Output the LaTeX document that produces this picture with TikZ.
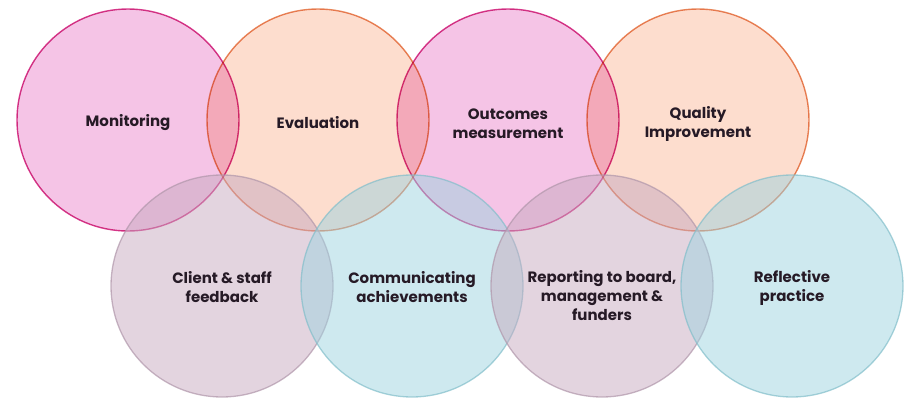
\documentclass[tikz,border=0pt]{standalone}
\usepackage{fontspec}
\setmainfont{Poppins}
\definecolor{pinkfill}{RGB}{245,196,230}
\definecolor{pinkline}{RGB}{216,58,140}
\definecolor{peachfill}{RGB}{253,221,206}
\definecolor{peachline}{RGB}{232,136,92}
\definecolor{mauvefill}{RGB}{199,169,191}
\definecolor{mauveline}{RGB}{176,150,170}
\definecolor{cyanfill}{RGB}{157,211,223}
\definecolor{cyanline}{RGB}{130,190,202}
\definecolor{txt}{RGB}{38,26,38}
\tikzset{
  topcirc/.style={circle, minimum size=222pt, inner sep=0pt, line width=1.4pt, blend mode=multiply},
  botcirc/.style={circle, minimum size=222pt, inner sep=0pt, line width=1.3pt, fill opacity=0.5, draw opacity=0.7},
  lbl/.style={font=\bfseries\fontsize{15}{19}\selectfont, text=txt, align=center},
}
\begin{document}
\begin{tikzpicture}[x=1pt,y=-1pt]
\useasboundingbox (0,0) rectangle (906,399);
\node[topcirc, fill=pinkfill, draw=pinkline] (mon) at (128,120) {};
\node[topcirc, fill=peachfill, draw=peachline] (eva) at (318,120) {};
\node[topcirc, fill=pinkfill, draw=pinkline] (out) at (508,120) {};
\node[topcirc, fill=peachfill, draw=peachline] (qua) at (698,120) {};
\node[botcirc, fill=mauvefill, draw=mauveline] (cli) at (222,286) {};
\node[botcirc, fill=cyanfill, draw=cyanline] (com) at (412,286) {};
\node[botcirc, fill=mauvefill, draw=mauveline] (rep) at (602,286) {};
\node[botcirc, fill=cyanfill, draw=cyanline] (ref) at (792,286) {};
\node[lbl] (tmon) at ([yshift=-3pt]mon) {Monitoring};
\node[lbl] (teva) at ([yshift=-3pt]eva) {Evaluation};
\node[lbl] (tout) at ([yshift=-4pt]out) {Outcomes\\measurement};
\node[lbl] (tqua) at ([yshift=-4pt]qua) {Quality\\Improvement};
\node[lbl] (tcli) at ([yshift=-1.5pt]cli) {Client \& staff\\feedback};
\node[lbl] (tcom) at ([yshift=-1.5pt]com) {Communicating\\achievements};
\node[lbl] (trep) at ([yshift=-10pt]rep) {Reporting to board,\\management \&\\funders};
\node[lbl] (tref) at ([yshift=-1.5pt]ref) {Reflective\\practice};
\end{tikzpicture}
\end{document}
